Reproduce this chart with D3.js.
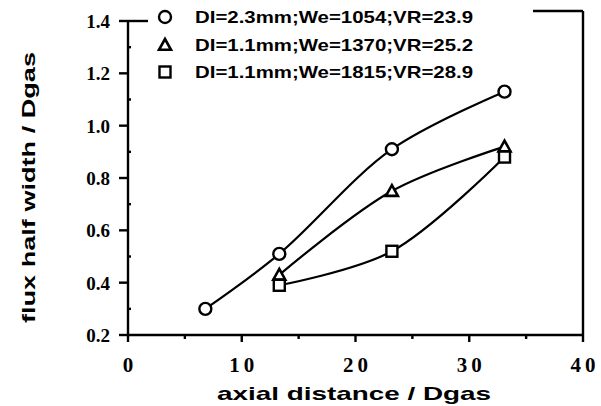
<!DOCTYPE html>
<html><head><meta charset="utf-8">
<script src="https://cdn.jsdelivr.net/npm/d3@7"></script>
<style>body{margin:0;background:#fff}svg{display:block}</style>
</head><body>
<svg id="c" width="601" height="406"></svg>
<script>
const circleX = [6.8, 13.3, 23.2, 33.1];
const circleY = [0.30, 0.51, 0.91, 1.13];
const triX = [13.3, 23.2, 33.1];
const triY = [0.43, 0.75, 0.92];
const sqX = [13.3, 23.2, 33.1];
const sqY = [0.39, 0.52, 0.88];
const legendLabels = ["DI=2.3mm;We=1054;VR=23.9", "DI=1.1mm;We=1370;VR=25.2", "DI=1.1mm;We=1815;VR=28.9"];
const xTicks = [0, 10, 20, 30, 40];
const yTicks = [0.2, 0.4, 0.6, 0.8, 1.0, 1.2, 1.4];

const svg = d3.select("#c");
const x = d3.scaleLinear().domain([0, 40]).range([128, 583]);
const y = d3.scaleLinear().domain([0.2, 1.4]).range([335, 21]);
const ink = "#000";
const sans = "Liberation Sans, Arial, sans-serif";
const serif = "Liberation Serif, Times New Roman, serif";

const g = svg.append("g").attr("stroke", ink).attr("stroke-width", 2.4).attr("fill", "none");
g.append("line").attr("x1", x(0)).attr("x2", x(0)).attr("y1", y(1.4) - 1).attr("y2", y(0.2));
g.append("line").attr("x1", x(0)).attr("x2", x(40)).attr("y1", y(0.2)).attr("y2", y(0.2));
g.append("line").attr("x1", x(40)).attr("x2", x(40)).attr("y1", y(1.4) - 10).attr("y2", y(0.2));
g.append("line").attr("x1", x(0)).attr("x2", 148).attr("y1", y(1.4)).attr("y2", y(1.4));
g.append("line").attr("x1", 533).attr("x2", x(40)).attr("y1", y(1.4) - 10).attr("y2", y(1.4) - 10);

yTicks.forEach(v => {
  g.append("line").attr("x1", x(0) - 9).attr("x2", x(0)).attr("y1", y(v)).attr("y2", y(v));
});
[0.3, 0.5, 0.7, 0.9, 1.1, 1.3].forEach(v => {
  g.append("line").attr("x1", x(0)).attr("x2", x(0) + 3).attr("y1", y(v)).attr("y2", y(v));
});
svg.append("g").selectAll("text").data(yTicks).join("text")
  .attr("x", x(0) - 18).attr("y", d => y(d)).attr("dy", "0.36em")
  .attr("text-anchor", "end").attr("font-family", serif)
  .attr("font-weight", "bold").attr("font-size", 19).text(d => d.toFixed(1));

xTicks.forEach(v => {
  g.append("line").attr("x1", x(v)).attr("x2", x(v)).attr("y1", y(0.2)).attr("y2", y(0.2) + 7);
});
[5, 15, 25, 35].forEach(v => {
  g.append("line").attr("x1", x(v)).attr("x2", x(v)).attr("y1", y(0.2)).attr("y2", y(0.2) + 4);
});
svg.append("g").selectAll("text").data(xTicks).join("text")
  .attr("x", d => x(d) + 2).attr("y", 372).attr("text-anchor", "middle")
  .attr("font-family", serif).attr("font-weight", "bold")
  .attr("font-size", 21).attr("letter-spacing", 4).text(d => d);

svg.append("text").attr("x", 217).attr("y", 400)
  .attr("font-family", sans).attr("font-weight", "bold")
  .attr("font-size", 19).attr("textLength", 274).attr("lengthAdjust", "spacingAndGlyphs")
  .text("axial distance / Dgas");
svg.append("text").attr("transform", "translate(35,323) rotate(-90)")
  .attr("font-family", sans).attr("font-weight", "bold")
  .attr("font-size", 19).attr("textLength", 271).attr("lengthAdjust", "spacingAndGlyphs")
  .text("flux half width / Dgas");

const line = d3.line().x(d => x(d[0])).y(d => y(d[1])).curve(d3.curveCatmullRom.alpha(0.5));
const series = [
  {xs: circleX, ys: circleY, shape: "circle"},
  {xs: triX, ys: triY, shape: "tri"},
  {xs: sqX, ys: sqY, shape: "sq"}
];
series.forEach(s => {
  const pts = s.xs.map((v, i) => [v, s.ys[i]]);
  svg.append("path").datum(pts).attr("d", line).attr("fill", "none")
    .attr("stroke", ink).attr("stroke-width", 2.2);
});

function marker(sel, shape, cx, cy) {
  if (shape === "circle") {
    sel.append("circle").attr("cx", cx).attr("cy", cy).attr("r", 6)
      .attr("fill", "#fff").attr("stroke", ink).attr("stroke-width", 2.4);
  } else if (shape === "tri") {
    const s = 6;
    sel.append("path").attr("d", `M${cx},${cy - s}L${cx + s},${cy + s * 0.8}L${cx - s},${cy + s * 0.8}Z`)
      .attr("fill", "#fff").attr("stroke", ink).attr("stroke-width", 2.6);
  } else {
    sel.append("rect").attr("x", cx - 5.5).attr("y", cy - 5.5).attr("width", 11).attr("height", 11)
      .attr("fill", "#fff").attr("stroke", ink).attr("stroke-width", 2.4);
  }
}
const mg = svg.append("g");
series.forEach(s => {
  s.xs.forEach((v, i) => marker(mg, s.shape, x(v), y(s.ys[i])));
});

const legY = [17, 45, 72];
legendLabels.forEach((t, i) => {
  marker(svg, series[i].shape, 165, legY[i]);
  svg.append("text").attr("x", 195).attr("y", legY[i]).attr("dy", "0.36em")
    .attr("font-family", sans).attr("font-weight", "bold")
    .attr("font-size", 16.5).attr("textLength", 278).attr("lengthAdjust", "spacingAndGlyphs")
    .text(t);
});
</script>
</body></html>
